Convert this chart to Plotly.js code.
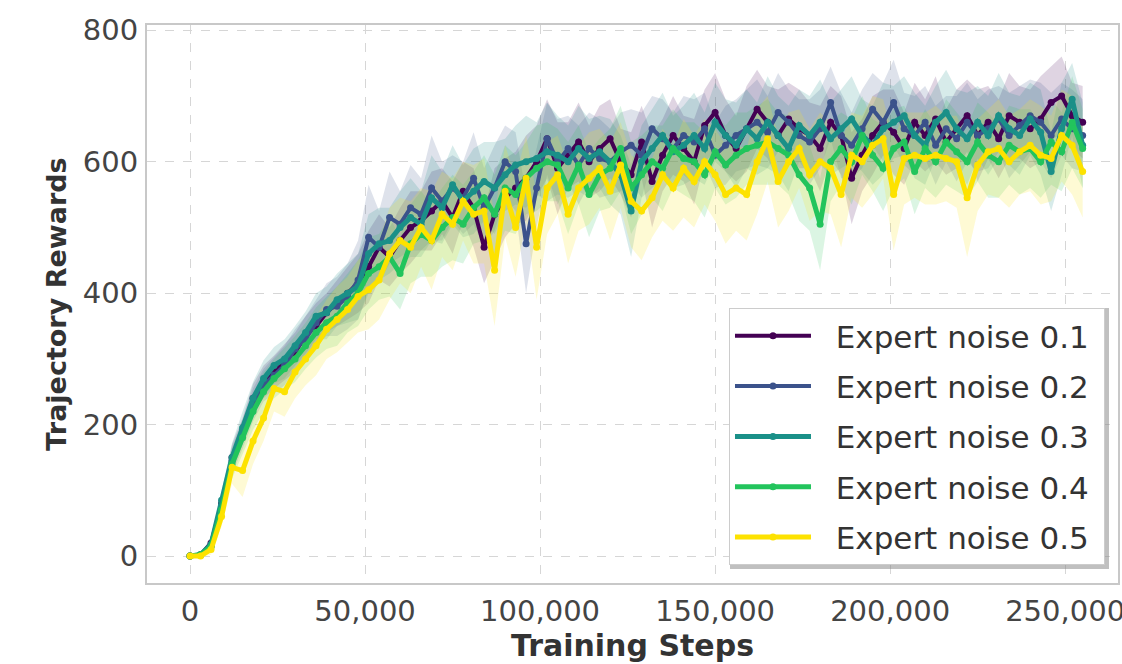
<!DOCTYPE html>
<html>
<head>
<meta charset="utf-8">
<script src="https://cdn.plot.ly/plotly-3.0.1.min.js"></script>
<style>html,body{margin:0;padding:0;background:#fff;}#chart{width:1122px;height:664px;}</style>
</head>
<body>
<div id="chart"></div>
<script>
// Training steps (x values)
const steps = [
  0, 3000, 6000, 9000, 12000, 15000, 18000, 21000, 24000, 27000,
  30000, 33000, 36000, 39000, 42000, 45000, 48000, 51000, 54000, 57000,
  60000, 63000, 66000, 69000, 72000, 75000, 78000, 81000, 84000, 87000,
  90000, 93000, 96000, 99000, 102000, 105000, 108000, 111000, 114000, 117000,
  120000, 123000, 126000, 129000, 132000, 135000, 138000, 141000, 144000, 147000,
  150000, 153000, 156000, 159000, 162000, 165000, 168000, 171000, 174000, 177000,
  180000, 183000, 186000, 189000, 192000, 195000, 198000, 201000, 204000, 207000,
  210000, 213000, 216000, 219000, 222000, 225000, 228000, 231000, 234000, 237000,
  240000, 243000, 246000, 249000, 252000, 255000
];

const seriesNames = ["Expert noise 0.1", "Expert noise 0.2", "Expert noise 0.3", "Expert noise 0.4", "Expert noise 0.5"];

// Mean trajectory rewards
const noise01 = [
  0, 2, 20, 80, 150, 190, 240, 265, 280, 295,
  310, 335, 350, 370, 385, 400, 415, 440, 470, 455,
  480, 500, 510, 525, 540, 515, 555, 530, 470, 520,
  545, 560, 575, 600, 635, 590, 610, 630, 600, 620,
  635, 600, 580, 630, 570, 610, 640, 620, 600, 655,
  675, 640, 620, 650, 680, 660, 640, 665, 650, 640,
  620, 660, 640, 575, 610, 640, 660, 645, 620, 660,
  640, 665, 630, 650, 670, 640, 660, 635, 670, 660,
  650, 665, 690, 700, 670, 660
];
const noise02 = [
  0, 2, 15, 75, 145, 185, 230, 260, 275, 290,
  315, 330, 355, 375, 380, 395, 420, 485, 470, 515,
  505, 530, 520, 560, 540, 560, 545, 575, 530, 560,
  600, 585, 475, 560, 635, 600, 620, 595, 620, 605,
  600, 615, 625, 610, 650, 635, 620, 640, 630, 650,
  610, 625, 640, 650, 660, 645, 675, 660, 640, 630,
  650, 690, 640, 625, 650, 680, 660, 690, 650, 640,
  660, 625, 650, 635, 660, 640, 650, 665, 640, 655,
  670, 660, 640, 665, 650, 640
];
const noise03 = [
  0, 2, 18, 85, 150, 195, 240, 270, 290, 300,
  320, 340, 365, 370, 390, 400, 410, 460, 475, 480,
  500, 515, 505, 545, 530, 565, 540, 555, 570, 560,
  580, 595, 600, 605, 615, 610, 600, 620, 605, 615,
  600, 580, 525, 600, 620, 640, 615, 625, 640, 620,
  660, 640, 625, 650, 635, 660, 640, 620, 655, 640,
  660, 635, 650, 665, 640, 625, 650, 660, 670, 640,
  625, 660, 675, 650, 635, 660, 640, 670, 650, 640,
  665, 645, 585, 650, 695, 625
];
const noise04 = [
  0, 2, 14, 70, 140, 180, 220, 250, 270, 285,
  300, 320, 340, 355, 365, 385, 400, 430, 440, 455,
  430, 475, 490, 480, 500, 515, 505, 530, 545, 520,
  560, 550, 575, 590, 600, 595, 560, 595, 550, 580,
  590, 620, 560, 580, 600, 590, 620, 605, 600, 580,
  615, 595, 610, 620, 625, 630, 620, 610, 580, 560,
  505, 600, 620, 600, 640, 610, 590, 620, 630, 585,
  620, 600, 630, 615, 600, 630, 610, 600, 625, 615,
  620, 600, 630, 615, 660, 620
];
const noise05 = [
  0, 0, 10, 60, 135, 130, 175, 210, 255, 250,
  280, 300, 320, 345, 360, 375, 395, 405, 420, 460,
  480, 470, 500, 480, 520, 505, 540, 520, 525, 435,
  555, 500, 575, 470, 560, 580, 520, 560, 575, 590,
  555, 595, 540, 525, 545, 580, 560, 590, 570, 600,
  580, 550, 560, 550, 600, 635, 570, 600, 620, 580,
  600, 590, 550, 610, 600, 625, 635, 550, 605, 610,
  605, 610, 605, 600, 545, 595, 615, 620, 600, 615,
  625, 610, 605, 640, 625, 585
];

// Half-width of the shaded band around each mean
const spread01 = [
  0, 2, 8, 15, 20, 20, 22, 25, 25, 28,
  30, 30, 35, 30, 35, 40, 45, 55, 50, 45,
  50, 55, 45, 60, 50, 55, 45, 60, 55, 70,
  60, 55, 65, 55, 60, 70, 50, 60, 55, 65,
  60, 50, 65, 55, 70, 55, 60, 50, 65, 55,
  60, 55, 50, 65, 60, 55, 70, 55, 60, 50,
  65, 55, 60, 70, 55, 60, 50, 65, 55, 60,
  55, 65, 50, 60, 55, 70, 55, 60, 65, 55,
  60, 65, 55, 60, 50, 55
];
const spread02 = [
  0, 2, 8, 15, 20, 22, 25, 25, 28, 30,
  30, 35, 35, 40, 45, 50, 60, 80, 55, 70,
  50, 65, 55, 80, 60, 50, 55, 70, 60, 65,
  55, 60, 75, 60, 55, 65, 50, 60, 55, 60,
  50, 60, 55, 65, 50, 60, 55, 60, 65, 55,
  50, 60, 55, 60, 65, 55, 60, 50, 55, 65,
  60, 55, 65, 50, 60, 55, 60, 65, 55, 60,
  55, 60, 50, 65, 60, 55, 60, 50, 65, 60,
  55, 60, 65, 55, 60, 55
];
const spread03 = [
  0, 2, 8, 15, 22, 25, 25, 28, 28, 30,
  30, 32, 35, 40, 40, 45, 50, 60, 55, 50,
  55, 60, 50, 65, 55, 60, 55, 65, 60, 70,
  55, 60, 70, 55, 75, 60, 55, 65, 60, 55,
  65, 60, 70, 55, 60, 65, 55, 60, 65, 55,
  60, 55, 65, 60, 55, 70, 60, 65, 55, 60,
  65, 55, 60, 65, 55, 60, 70, 55, 60, 65,
  60, 55, 65, 60, 70, 55, 60, 65, 55, 60,
  55, 65, 60, 70, 55, 65
];
const spread04 = [
  0, 2, 8, 15, 22, 25, 28, 30, 30, 32,
  35, 35, 38, 40, 45, 45, 50, 55, 50, 60,
  55, 60, 65, 55, 60, 65, 60, 55, 65, 60,
  65, 60, 55, 65, 60, 55, 70, 60, 65, 55,
  60, 65, 70, 60, 55, 65, 60, 55, 60, 65,
  55, 60, 65, 55, 60, 65, 55, 60, 70, 65,
  70, 60, 55, 65, 60, 55, 65, 60, 55, 65,
  60, 55, 65, 60, 55, 60, 65, 55, 60, 65,
  60, 55, 65, 60, 70, 60
];
const spread05 = [
  0, 2, 8, 15, 25, 40, 35, 35, 35, 38,
  40, 40, 45, 45, 50, 50, 55, 60, 60, 70,
  65, 70, 60, 75, 65, 70, 60, 75, 80, 85,
  70, 75, 65, 80, 70, 60, 75, 65, 70, 60,
  75, 65, 70, 75, 60, 70, 65, 75, 70, 65,
  70, 75, 65, 70, 80, 65, 70, 75, 60, 70,
  75, 70, 80, 65, 70, 75, 60, 85, 70, 65,
  70, 75, 65, 70, 90, 70, 65, 75, 70, 65,
  70, 75, 65, 70, 75, 70
];

const xTickVals = [0, 50000, 100000, 150000, 200000, 250000];
const yTickVals = [0, 200, 400, 600, 800];

const means = [noise01, noise02, noise03, noise04, noise05];
const spreads = [spread01, spread02, spread03, spread04, spread05];
const colors = ["#440154", "#3b528b", "#1a9088", "#22c45c", "#fde200"];
const bandColors = ["rgba(68,1,84,0.17)", "rgba(59,82,139,0.17)", "rgba(33,145,140,0.18)", "rgba(40,196,90,0.17)", "rgba(250,230,40,0.2)"];
const widths = [4, 4, 5, 5, 5];

const traces = [];
means.forEach((m, k) => {
  const up = m.map((v, i) => v + spreads[k][i]);
  const lo = m.map((v, i) => v - spreads[k][i]);
  traces.push({
    x: steps.concat(steps.slice().reverse()),
    y: up.concat(lo.slice().reverse()),
    type: "scatter", mode: "lines", fill: "toself",
    fillcolor: bandColors[k], line: {width: 0, color: "rgba(0,0,0,0)"},
    hoverinfo: "skip", showlegend: false
  });
});
means.forEach((m, k) => {
  traces.push({
    x: steps, y: m, type: "scatter", mode: "lines+markers",
    name: "&nbsp;&nbsp;" + seriesNames[k] + "&nbsp;", legendgroup: "g" + k,
    line: {color: colors[k], width: widths[k]},
    marker: {color: colors[k], size: 7}
  });
});

// paper-coordinate helpers for the legend shadow (plot area 147..1118 x 25..583 px)
const px = v => (v - 147) / 971;
const py = v => (583 - v) / 558;

const layout = {
  width: 1122, height: 664,
  margin: {l: 147, r: 4, t: 25, b: 81},
  paper_bgcolor: "#ffffff", plot_bgcolor: "#ffffff",
  font: {family: "DejaVu Sans, sans-serif", color: "#444444"},
  showlegend: true,
  legend: {
    x: 0.9866, xanchor: "right", y: 0.032, yanchor: "bottom",
    bgcolor: "#ffffff", bordercolor: "#cccccc", borderwidth: 1,
    font: {family: "DejaVu Sans, sans-serif", size: 31, color: "#333333"},
    tracegroupgap: 7, itemwidth: 76
  },
  shapes: [
    {type: "rect", xref: "paper", yref: "paper", layer: "above",
     x0: px(730), x1: px(1109), y0: py(569), y1: py(308),
     fillcolor: "rgba(130,130,130,0.5)", line: {width: 0}}
  ],
  xaxis: {
    range: [-12300, 265100],
    tickvals: xTickVals, tickformat: ",d", ticklabeloverflow: "allow",
    tickfont: {size: 29, color: "#444444"},
    showgrid: true, gridcolor: "#d6d6d6", griddash: "dash", gridwidth: 1,
    zeroline: false, showline: true, mirror: true, linecolor: "#c8c8c8", linewidth: 2,
    ticks: "", ticklabelstandoff: 1,
    title: {text: "<b>Training Steps</b>", font: {size: 30, color: "#333333"}, standoff: 6}
  },
  yaxis: {
    range: [-41, 808],
    tickvals: yTickVals,
    tickfont: {size: 29, color: "#444444"},
    showgrid: true, gridcolor: "#d6d6d6", griddash: "dash", gridwidth: 1,
    zeroline: false, showline: true, mirror: true, linecolor: "#c8c8c8", linewidth: 2,
    ticks: "", ticklabelstandoff: 1,
    title: {text: "<b>Trajectory Rewards</b>", font: {size: 27, color: "#333333"}, standoff: 8}
  }
};

Plotly.newPlot("chart", traces, layout, {displayModeBar: false, staticPlot: true});
</script>
</body>
</html>
